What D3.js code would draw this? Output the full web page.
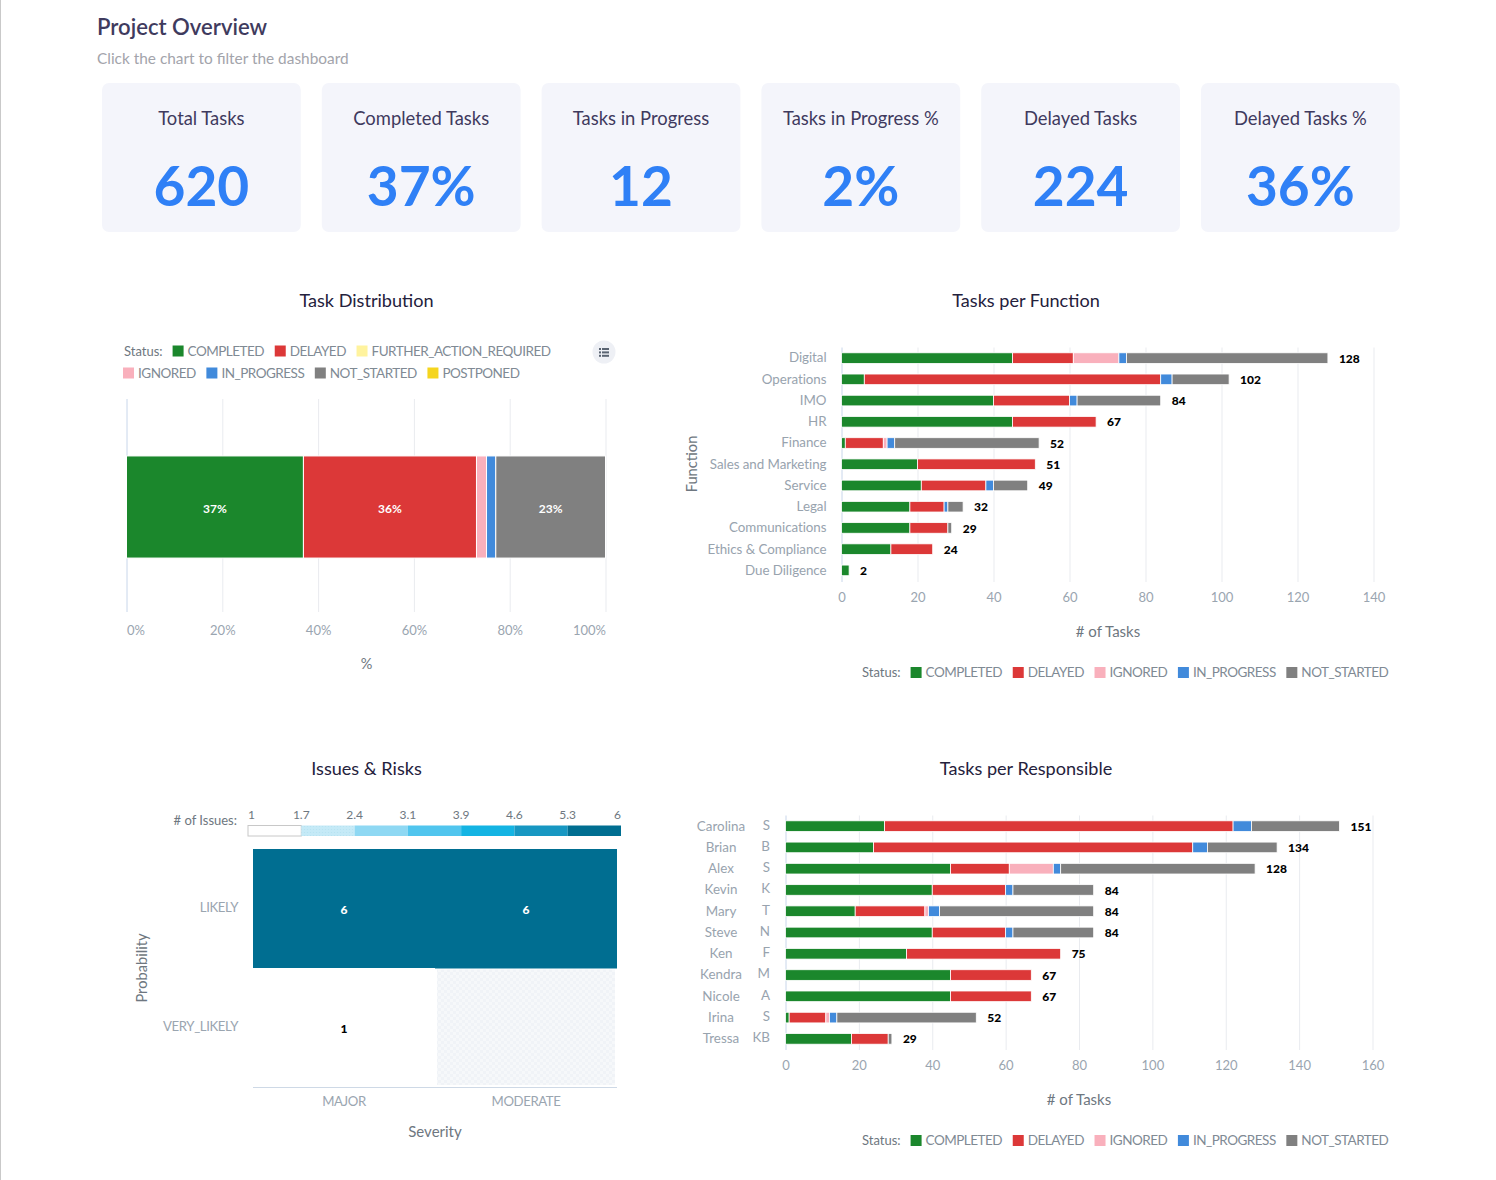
<!DOCTYPE html>
<html>
<head>
<meta charset="utf-8">
<title>Project Overview</title>
<script src="https://cdn.jsdelivr.net/npm/d3@7"></script>
<style>
  html, body { margin: 0; padding: 0; background: #fff; overflow: hidden; }
  svg text { font-family: Lato, "Open Sans", sans-serif; }
  .domain { display: none; }
</style>
</head>
<body>
<div id="chart"></div>
<script>
// kpi cards
var kpiTitles = ["Total Tasks", "Completed Tasks", "Tasks in Progress", "Tasks in Progress %", "Delayed Tasks", "Delayed Tasks %"];
var kpiValues = ["620", "37%", "12", "2%", "224", "36%"];

// status names + colours
var statusAll = ["COMPLETED", "DELAYED", "FURTHER_ACTION_REQUIRED", "IGNORED", "IN_PROGRESS", "NOT_STARTED", "POSTPONED"];
var statusUsed = ["COMPLETED", "DELAYED", "IGNORED", "IN_PROGRESS", "NOT_STARTED"];
var statusColors = ["#1b872c", "#dc3838", "#fff39e", "#f9b0bc", "#418adb", "#808080", "#f5d51e"];

// task distribution
var distributionValues = [229, 224, 0, 13, 12, 142, 0];
var distributionTicks = [0, 20, 40, 60, 80, 100];

// tasks per function
var functionNames = ["Digital", "Operations", "IMO", "HR", "Finance", "Sales and Marketing", "Service", "Legal", "Communications", "Ethics & Compliance", "Due Diligence"];
var functionCompleted = [45, 6, 40, 45, 1, 20, 21, 18, 18, 13, 2];
var functionDelayed = [16, 78, 20, 22, 10, 31, 17, 9, 10, 11, 0];
var functionIgnored = [12, 0, 0, 0, 1, 0, 0, 0, 0, 0, 0];
var functionInProgress = [2, 3, 2, 0, 2, 0, 2, 1, 0, 0, 0];
var functionNotStarted = [53, 15, 22, 0, 38, 0, 9, 4, 1, 0, 0];

// tasks per responsible
var firstNames = ["Carolina", "Brian", "Alex", "Kevin", "Mary", "Steve", "Ken", "Kendra", "Nicole", "Irina", "Tressa"];
var lastNames = ["S", "B", "S", "K", "T", "N", "F", "M", "A", "S", "KB"];
var personCompleted = [27, 24, 45, 40, 19, 40, 33, 45, 45, 1, 18];
var personDelayed = [95, 87, 16, 20, 19, 20, 42, 22, 22, 10, 10];
var personIgnored = [0, 0, 12, 0, 1, 0, 0, 0, 0, 1, 0];
var personInProgress = [5, 4, 2, 2, 3, 2, 0, 0, 0, 2, 0];
var personNotStarted = [24, 19, 53, 22, 42, 22, 0, 0, 0, 38, 1];

// issues & risks
var severities = ["MAJOR", "MODERATE"];
var probabilities = ["LIKELY", "VERY_LIKELY"];
var issueMajor = [6, 1];
var issueModerate = [6, null];
var issueLegendLabels = ["1", "1.7", "2.4", "3.1", "3.9", "4.6", "5.3", "6"];
var issueLegendColors = ["#ffffff", "#c5eaf7", "#8ed8f3", "#50c5ee", "#14b4e3", "#1797c2", "#006e91"];

var colorOf = d3.scaleOrdinal().domain(statusAll).range(statusColors);

var svg = d3.select("#chart").append("svg")
  .attr("width", 1496)
  .attr("height", 1180);

var defs = svg.append("defs");
var hatch = defs.append("pattern")
  .attr("id", "emptyCell")
  .attr("width", 6).attr("height", 6)
  .attr("patternUnits", "userSpaceOnUse");
hatch.append("rect").attr("width", 6).attr("height", 6).attr("fill", "#f6f8fa");
hatch.append("rect").attr("width", 3).attr("height", 3).attr("fill", "#f0f3f7");
hatch.append("rect").attr("x", 3).attr("y", 3).attr("width", 3).attr("height", 3).attr("fill", "#f0f3f7");

var dots = defs.append("pattern")
  .attr("id", "legendDots")
  .attr("width", 3).attr("height", 3)
  .attr("patternUnits", "userSpaceOnUse");
dots.append("rect").attr("width", 3).attr("height", 3).attr("fill", "#c5eaf7");
dots.append("circle").attr("cx", 1.5).attr("cy", 1.5).attr("r", 0.6).attr("fill", "#b5e2f2");

function label(x, y, str, size, color, anchor, weight) {
  return svg.append("text")
    .attr("x", x)
    .attr("y", y)
    .attr("dy", "0.35em")
    .attr("text-anchor", anchor || "start")
    .attr("font-size", size)
    .attr("font-weight", weight || 400)
    .attr("fill", color)
    .text(str);
}

// page edge
svg.append("rect").attr("x", 0).attr("y", 0).attr("width", 1).attr("height", 1180).attr("fill", "#c9c9c9");

label(97, 27.5, "Project Overview", 22.1, "#3f3b5e", "start", 600);
label(97, 59, "Click the chart to filter the dashboard", 15.4, "#a3a4ab");

// kpi cards
var kpiX = d3.scaleBand().domain(kpiTitles).range([102, 1399.8]).paddingInner(0.0955).paddingOuter(0);
kpiTitles.forEach(function (t, i) {
  var x = kpiX(t), w = kpiX.bandwidth();
  svg.append("rect")
    .attr("x", x).attr("y", 83)
    .attr("width", w).attr("height", 149)
    .attr("rx", 7)
    .attr("fill", "#f4f5fb");
  label(x + w / 2, 119, t, 18.4, "#3f3a5e", "middle");
  label(x + w / 2, 187, kpiValues[i], 55, "#2f80f6", "middle", 700);
});

label(366.5, 301, "Task Distribution", 18.1, "#24213c", "middle");
label(1026, 301, "Tasks per Function", 18.1, "#24213c", "middle");
label(366.5, 769, "Issues & Risks", 18.1, "#24213c", "middle");
label(1026, 769, "Tasks per Responsible", 18.1, "#24213c", "middle");

function legend(x, y, items, withTitle) {
  var cur = x;
  if (withTitle) {
    var st = label(cur, y, "Status:", 13, "#6e7780");
    cur += st.node().getComputedTextLength() + 10;
  }
  items.forEach(function (name) {
    svg.append("rect")
      .attr("x", cur).attr("y", y - 5.5)
      .attr("width", 11).attr("height", 11)
      .attr("fill", colorOf(name));
    var t = label(cur + 15, y, name, 13.5, "#808a94").attr("letter-spacing", -0.5);
    cur += 15 + t.node().getComputedTextLength() + 10.6;
  });
}

function styleAxis(g) {
  g.selectAll(".tick line").attr("stroke", "#e9ebef");
  g.selectAll(".tick text").attr("fill", "#9aa5b0").attr("font-size", 13);
}

// task distribution
(function () {
  var total = d3.sum(distributionValues);
  var x = d3.scaleLinear().domain([0, 100]).range([126.5, 605.5]);
  var axis = svg.append("g")
    .attr("transform", "translate(0,612)")
    .call(d3.axisBottom(x)
      .tickValues(distributionTicks)
      .tickFormat(function (d) { return d + "%"; })
      .tickSize(-213)
      .tickPadding(14));
  styleAxis(axis);
  axis.selectAll(".tick text").attr("text-anchor", function (d) {
    return d === 0 ? "start" : d === 100 ? "end" : "middle";
  });
  axis.selectAll(".tick line").filter(function (d) { return d === 0; }).attr("stroke", "#c8d6ea");

  var rows = [{}];
  statusAll.forEach(function (s, i) { rows[0][s] = distributionValues[i] / total * 100; });
  var stacked = d3.stack().keys(statusAll)(rows);
  var y = d3.scaleBand().domain(["all"]).range([399, 615]).padding(0.358);

  svg.append("g").selectAll("rect")
    .data(stacked)
    .join("rect")
    .attr("x", function (d) { return x(d[0][0]); })
    .attr("y", y("all"))
    .attr("width", function (d) { return x(d[0][1]) - x(d[0][0]); })
    .attr("height", y.bandwidth())
    .attr("fill", function (d) { return colorOf(d.key); })
    .attr("stroke", "#fff")
    .attr("stroke-width", 1);

  stacked.forEach(function (d) {
    var pct = d[0][1] - d[0][0];
    if (pct < 5) return;
    label(x((d[0][0] + d[0][1]) / 2), 509, Math.round(pct) + "%", 12, "#fff", "middle", 700);
  });

  legend(124, 351, ["COMPLETED", "DELAYED", "FURTHER_ACTION_REQUIRED"], true);
  legend(123, 373, ["IGNORED", "IN_PROGRESS", "NOT_STARTED", "POSTPONED"], false);
  label(366.5, 664, "%", 14.5, "#6e7780", "middle");

  // list button
  svg.append("circle").attr("cx", 604).attr("cy", 352).attr("r", 11.5).attr("fill", "#eef0f5");
  d3.range(3).forEach(function (i) {
    svg.append("rect").attr("x", 599).attr("y", 348 + i * 3.4).attr("width", 2).attr("height", 2).attr("fill", "#5a6472");
    svg.append("rect").attr("x", 602).attr("y", 348 + i * 3.4).attr("width", 7).attr("height", 2).attr("fill", "#5a6472");
  });
})();

// stacked bars, shared by the two right hand charts
function stackedChart(names, columns, xRange, yRange, maxX, tickStep, axisY) {
  var rows = names.map(function (n, i) {
    var r = { name: n };
    statusUsed.forEach(function (s, j) { r[s] = columns[j][i]; });
    r.total = d3.sum(columns, function (c) { return c[i]; });
    return r;
  });
  var x = d3.scaleLinear().domain([0, maxX]).range(xRange);
  var y = d3.scaleBand().domain(d3.range(names.length)).range(yRange).paddingInner(0.5).paddingOuter(0.25);

  var axis = svg.append("g")
    .attr("transform", "translate(0," + axisY + ")")
    .call(d3.axisBottom(x)
      .tickValues(d3.range(0, maxX + 1, tickStep))
      .tickSize(-(axisY - yRange[0]))
      .tickPadding(11));
  styleAxis(axis);
  axis.selectAll(".tick line").filter(function (d) { return d === 0; }).attr("stroke", "#c8d6ea");

  svg.append("g").selectAll("g")
    .data(d3.stack().keys(statusUsed)(rows))
    .join("g")
    .attr("fill", function (d) { return colorOf(d.key); })
    .selectAll("rect")
    .data(function (d) { return d.filter(function (v) { return v[1] > v[0]; }); })
    .join("rect")
    .attr("x", function (d) { return x(d[0]); })
    .attr("y", function (d) { return y(rows.indexOf(d.data)); })
    .attr("width", function (d) { return x(d[1]) - x(d[0]); })
    .attr("height", y.bandwidth())
    .attr("stroke", "#fff")
    .attr("stroke-width", 0.8);

  rows.forEach(function (r, i) {
    label(x(r.total) + 11, y(i) + y.bandwidth() / 2 + 0.4, r.total, 12, "#000", "start", 900);
  });
  return y;
}

// tasks per function
(function () {
  var y = stackedChart(functionNames,
    [functionCompleted, functionDelayed, functionIgnored, functionInProgress, functionNotStarted],
    [841.5, 1373.5], [347.5, 581], 140, 20, 582);
  functionNames.forEach(function (n, i) {
    label(826.5, y(i) + y.bandwidth() / 2 - 0.3, n, 13.35, "#98a3ae", "end").attr("letter-spacing", -0.05);
  });
  label(1108, 632, "# of Tasks", 15, "#6e7780", "middle");
  label(0, 0, "Function", 14.7, "#6e7780", "middle")
    .attr("transform", "translate(692,464) rotate(-90)");
  legend(862, 672.5, statusUsed, true);
})();

// tasks per responsible
(function () {
  var y = stackedChart(firstNames,
    [personCompleted, personDelayed, personIgnored, personInProgress, personNotStarted],
    [785.5, 1372.5], [815.5, 1049.5], 160, 20, 1050);
  firstNames.forEach(function (n, i) {
    var cy = y(i) + y.bandwidth() / 2 - 0.3;
    label(721, cy, n, 13.4, "#98a3ae", "middle");
    label(770, cy - 1, lastNames[i], 13.4, "#98a3ae", "end");
  });
  label(1079, 1100, "# of Tasks", 15, "#6e7780", "middle");
  legend(862, 1140.5, statusUsed, true);
})();

// issues & risks heatmap
(function () {
  var x = d3.scaleBand().domain(severities).range([253, 617]);
  var y = d3.scaleBand().domain(probabilities).range([849, 1087]);
  var legendX = d3.scaleBand().domain(issueLegendColors).range([248, 621]);
  var cellColor = d3.scaleQuantize().domain([1, 6]).range(issueLegendColors);

  var cells = [];
  probabilities.forEach(function (p, i) {
    cells.push({ sev: severities[0], prob: p, value: issueMajor[i] });
    cells.push({ sev: severities[1], prob: p, value: issueModerate[i] });
  });

  svg.append("g").selectAll("rect")
    .data(cells)
    .join("rect")
    .attr("x", function (d) { return d.value === null ? x(d.sev) + 2 : x(d.sev); })
    .attr("y", function (d) { return d.value === null ? y(d.prob) + 1.5 : y(d.prob); })
    .attr("width", function (d) { return d.value === null ? x.bandwidth() - 4 : x.bandwidth(); })
    .attr("height", function (d) { return d.value === null ? y.bandwidth() - 3.5 : y.bandwidth() + 0.5; })
    .attr("fill", function (d) { return d.value === null ? "url(#emptyCell)" : cellColor(d.value); });

  cells.forEach(function (d) {
    if (d.value === null) return;
    label(x(d.sev) + x.bandwidth() / 2, y(d.prob) + y.bandwidth() / 2 + 1.5, d.value, 12, d.value > 3 ? "#fff" : "#000", "middle", 900);
  });

  svg.append("line")
    .attr("x1", 253).attr("x2", 617)
    .attr("y1", 1087.5).attr("y2", 1087.5)
    .attr("stroke", "#ced9e6");

  var xAxis = svg.append("g")
    .attr("transform", "translate(0,1087)")
    .call(d3.axisBottom(x).tickSize(0).tickPadding(10));
  styleAxis(xAxis);
  xAxis.selectAll(".tick text").attr("font-size", 13.2).attr("letter-spacing", -0.4);

  var yAxis = svg.append("g")
    .attr("transform", "translate(238,-0.5)")
    .call(d3.axisLeft(y).tickSize(0).tickPadding(0));
  styleAxis(yAxis);
  yAxis.selectAll(".tick text").attr("font-size", 13.2).attr("letter-spacing", -0.4);

  // colour legend
  svg.append("g").selectAll("rect")
    .data(issueLegendColors)
    .join("rect")
    .attr("x", function (d) { return legendX(d); })
    .attr("y", 825.5)
    .attr("width", legendX.bandwidth())
    .attr("height", 10.5)
    .attr("fill", function (d, i) { return i === 1 ? "url(#legendDots)" : d; })
    .attr("stroke", function (d, i) { return i === 0 ? "#c8c8c8" : "none"; });

  issueLegendLabels.forEach(function (t, i) {
    var px = 248 + i * legendX.bandwidth();
    var a = i === 0 ? "start" : i === issueLegendLabels.length - 1 ? "end" : "middle";
    label(px, 815, t, 12, "#6e7780", a);
  });
  label(237, 820, "# of Issues:", 13, "#6e7780", "end");

  label(435, 1132, "Severity", 15, "#6e7780", "middle");
  label(0, 0, "Probability", 14.7, "#6e7780", "middle")
    .attr("transform", "translate(142,968) rotate(-90)");
})();
</script>
</body>
</html>
